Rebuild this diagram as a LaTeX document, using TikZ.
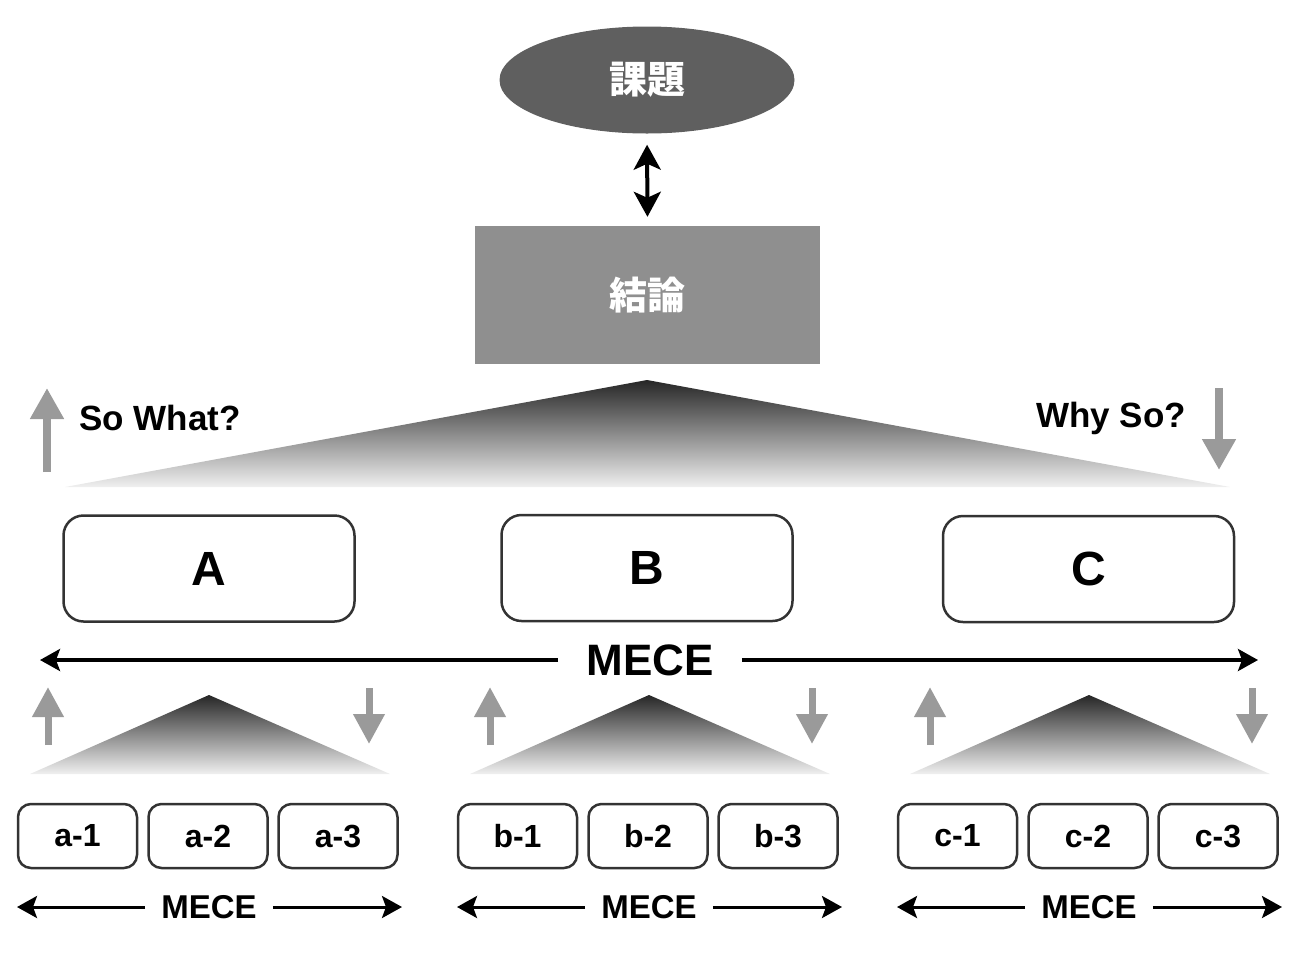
\documentclass[tikz,border=0pt]{standalone}
\usepackage{fontspec}
\setmainfont{Liberation Sans}
\newfontfamily\jp{Noto Sans CJK JP}
\usetikzlibrary{arrows.meta,shapes.geometric}
\definecolor{ellgray}{HTML}{5F5F5F}
\definecolor{recgray}{HTML}{8F8F8F}
\definecolor{arrgray}{HTML}{9A9A9A}
\definecolor{boxline}{HTML}{333333}
\tikzset{
  bigbox/.style={draw=boxline, line width=2.5pt, rounded corners=20pt, fill=white,
    minimum width=291pt, minimum height=106pt, inner sep=0pt,
    font=\bfseries\fontsize{48}{52}\selectfont},
  smallbox/.style={draw=boxline, line width=2.5pt, rounded corners=13pt, fill=white,
    minimum width=119pt, minimum height=64pt, inner sep=0pt,
    font=\bfseries\fontsize{32}{36}\selectfont},
  bigmece/.style={font=\bfseries\fontsize{44}{48}\selectfont, inner xsep=28pt, inner ysep=0pt},
  smallmece/.style={font=\bfseries\fontsize{33}{36}\selectfont, inner xsep=16pt, inner ysep=0pt},
  meceline/.style={line width=3.5pt, -{Stealth[length=20pt,width=22pt,inset=4pt]}},
  smallline/.style={line width=3pt, -{Stealth[length=20pt,width=22pt,inset=4pt]}},
  grayup/.style={draw=arrgray, line width=7pt, -{Triangle[length=30pt,width=30pt]}},
  biggray/.style={draw=arrgray, line width=8pt, -{Triangle[length=31pt,width=32pt]}},
  dblarrow/.style={line width=4pt, {Stealth[length=25pt,width=27pt,inset=6pt]}-{Stealth[length=25pt,width=27pt,inset=6pt]}},
  tri/.style={top color=black!85, bottom color=black!6},
  sowhat/.style={font=\bfseries\fontsize{35}{38}\selectfont, inner sep=0pt},
}
\begin{document}
\begin{tikzpicture}[x=1pt,y=-1pt]
\useasboundingbox (0,0) rectangle (1300,975);

% top
\node[ellipse, fill=ellgray, minimum width=295pt, minimum height=107pt, inner sep=0pt,
  text=white, font=\jp\bfseries\fontsize{38}{40}\selectfont] (kadai) at (647,80) {課題};
\node[rectangle, fill=recgray, minimum width=345pt, minimum height=138pt, inner sep=0pt,
  text=white, font=\jp\bfseries\fontsize{38}{40}\selectfont] (ketsuron) at (647.5,295) {結論};
\draw[dblarrow, shorten <=11pt, shorten >=9pt] (kadai.south) -- (ketsuron.north);

% big triangle
\shade[tri] (65,487) -- (647,380) -- (1230,487) -- cycle;

% So What / Why So
\coordinate (swb) at (47,472);
\coordinate (swt) at (47,388);
\draw[biggray] (swb) -- (swt);
\node[sowhat, anchor=west] (sowhat) at (79,418) {So What?};
\coordinate (wst) at (1219,388);
\coordinate (wsb) at (1219,470);
\draw[biggray] (wst) -- (wsb);
\node[sowhat, anchor=east] (whyso) at (1186,418) {Why So?};

% A B C
\node[bigbox] (A) at (209,568.5) {A};
\node[bigbox] (B) at (647,568) {B};
\node[bigbox] (C) at (1088.5,569) {C};

% main MECE
\node[bigmece] (mece) at (650,660) {MECE};
\coordinate (ml) at (40,660);
\coordinate (mr) at (1258,660);
\draw[meceline] (mece.west) -- (ml);
\draw[meceline] (mece.east) -- (mr);

% small groups
\foreach \g/\cx/\ux/\dx in {a/209/48/369, b/649/490/812, c/1089/930/1252}{
  \shade[tri] (\cx-179,774) -- (\cx,695) -- (\cx+181,774) -- cycle;
  \coordinate (\g up0) at (\ux,745);
  \coordinate (\g up1) at (\ux,687);
  \draw[grayup] (\g up0) -- (\g up1);
  \coordinate (\g dn0) at (\dx,688);
  \coordinate (\g dn1) at (\dx,744);
  \draw[grayup] (\g dn0) -- (\g dn1);
  \node[smallbox] (\g1) at (\cx-131.5,836) {\g-1};
  \node[smallbox] (\g2) at (\cx-1,836) {\g-2};
  \node[smallbox] (\g3) at (\cx+129,836) {\g-3};
  \node[smallmece] (\g mece) at (\cx,907) {MECE};
  \coordinate (\g ml) at (\cx-192,907);
  \coordinate (\g mr) at (\cx+193,907);
  \draw[smallline] (\g mece.west) -- (\g ml);
  \draw[smallline] (\g mece.east) -- (\g mr);
}
\end{tikzpicture}
\end{document}
